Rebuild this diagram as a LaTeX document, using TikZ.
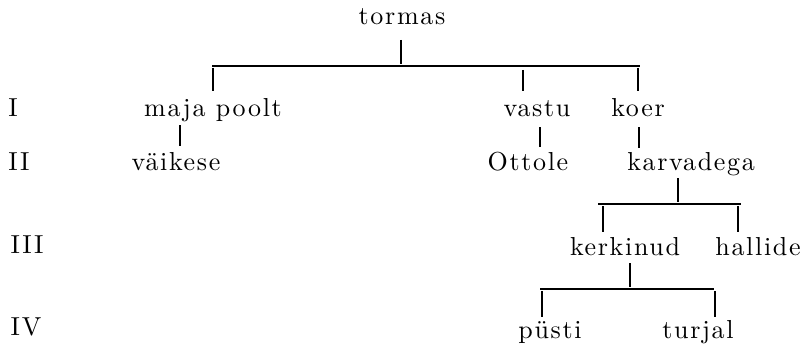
\documentclass[tikz,border=0pt]{standalone}
\usepackage{fontspec}
\newfontfamily\wordfont{lmroman10-regular.otf}[LetterSpace=6.4]
\begin{document}
\begin{tikzpicture}[x=1pt,y=-1pt,
  w/.style={anchor=base,inner sep=0pt,font=\wordfont\fontsize{26}{30}\selectfont},
  lvl/.style={anchor=base,inner sep=0pt,font=\wordfont\fontsize{26}{30}\selectfont},
  stub/.style={line width=1.6pt},
  bar/.style={line width=2pt}]
\useasboundingbox (0,0) rectangle (804,345);
% level labels
\node[lvl] (L1) at (13,117) {I};
\node[lvl] (L2) at (19,170) {II};
\node[lvl] (L3) at (27,253) {III};
\node[lvl] (L4) at (26,335) {IV};
% words
\node[w] (tormas) at (402,25) {tormas};
\node[w] (maja) at (213,117) {maja poolt};
\node[w] (vastu) at (537,117) {vastu};
\node[w] (koer) at (638,117) {koer};
\node[w] (vaikese) at (176,170) {väikese};
\node[w] (ottole) at (528,170) {Ottole};
\node[w] (karva) at (691,170) {karvadega};
\node[w] (kerk) at (625,255) {kerkinud};
\node[w] (hall) at (758,255) {hallide};
\node[w] (pusti) at (550,338) {püsti};
\node[w] (turjal) at (698,338) {turjal};
% coordinates
\coordinate (t0) at (401,40); \coordinate (t1) at (401,64);
\coordinate (b1L) at (212,66); \coordinate (b1R) at (640,66);
\coordinate (m0) at (213,68); \coordinate (m1) at (213,91);
\coordinate (v0) at (523,70); \coordinate (v1) at (523,91);
\coordinate (k0) at (638,68); \coordinate (k1) at (638,91);
\coordinate (mv0) at (180,125); \coordinate (mv1) at (180,146);
\coordinate (vo0) at (540,127); \coordinate (vo1) at (540,147);
\coordinate (kk0) at (639,127); \coordinate (kk1) at (639,148);
\coordinate (ka0) at (678,178); \coordinate (ka1) at (678,202);
\coordinate (b2L) at (598,204); \coordinate (b2R) at (741,204);
\coordinate (ke0) at (603,206); \coordinate (ke1) at (603,232);
\coordinate (ha0) at (738,206); \coordinate (ha1) at (738,232);
\coordinate (kn0) at (630,263); \coordinate (kn1) at (630,287);
\coordinate (b3L) at (540,289); \coordinate (b3R) at (714,289);
\coordinate (pu0) at (542,291); \coordinate (pu1) at (542,317);
\coordinate (tu0) at (715,291); \coordinate (tu1) at (715,317);
% connectors
\draw[stub] (t0) -- (t1);
\draw[bar] (b1L) -- (b1R);
\draw[stub] (m0) -- (m1);
\draw[stub] (v0) -- (v1);
\draw[stub] (k0) -- (k1);
\draw[stub] (mv0) -- (mv1);
\draw[stub] (vo0) -- (vo1);
\draw[stub] (kk0) -- (kk1);
\draw[stub] (ka0) -- (ka1);
\draw[bar] (b2L) -- (b2R);
\draw[stub] (ke0) -- (ke1);
\draw[stub] (ha0) -- (ha1);
\draw[stub] (kn0) -- (kn1);
\draw[bar] (b3L) -- (b3R);
\draw[stub] (pu0) -- (pu1);
\draw[stub] (tu0) -- (tu1);
\end{tikzpicture}
\end{document}
